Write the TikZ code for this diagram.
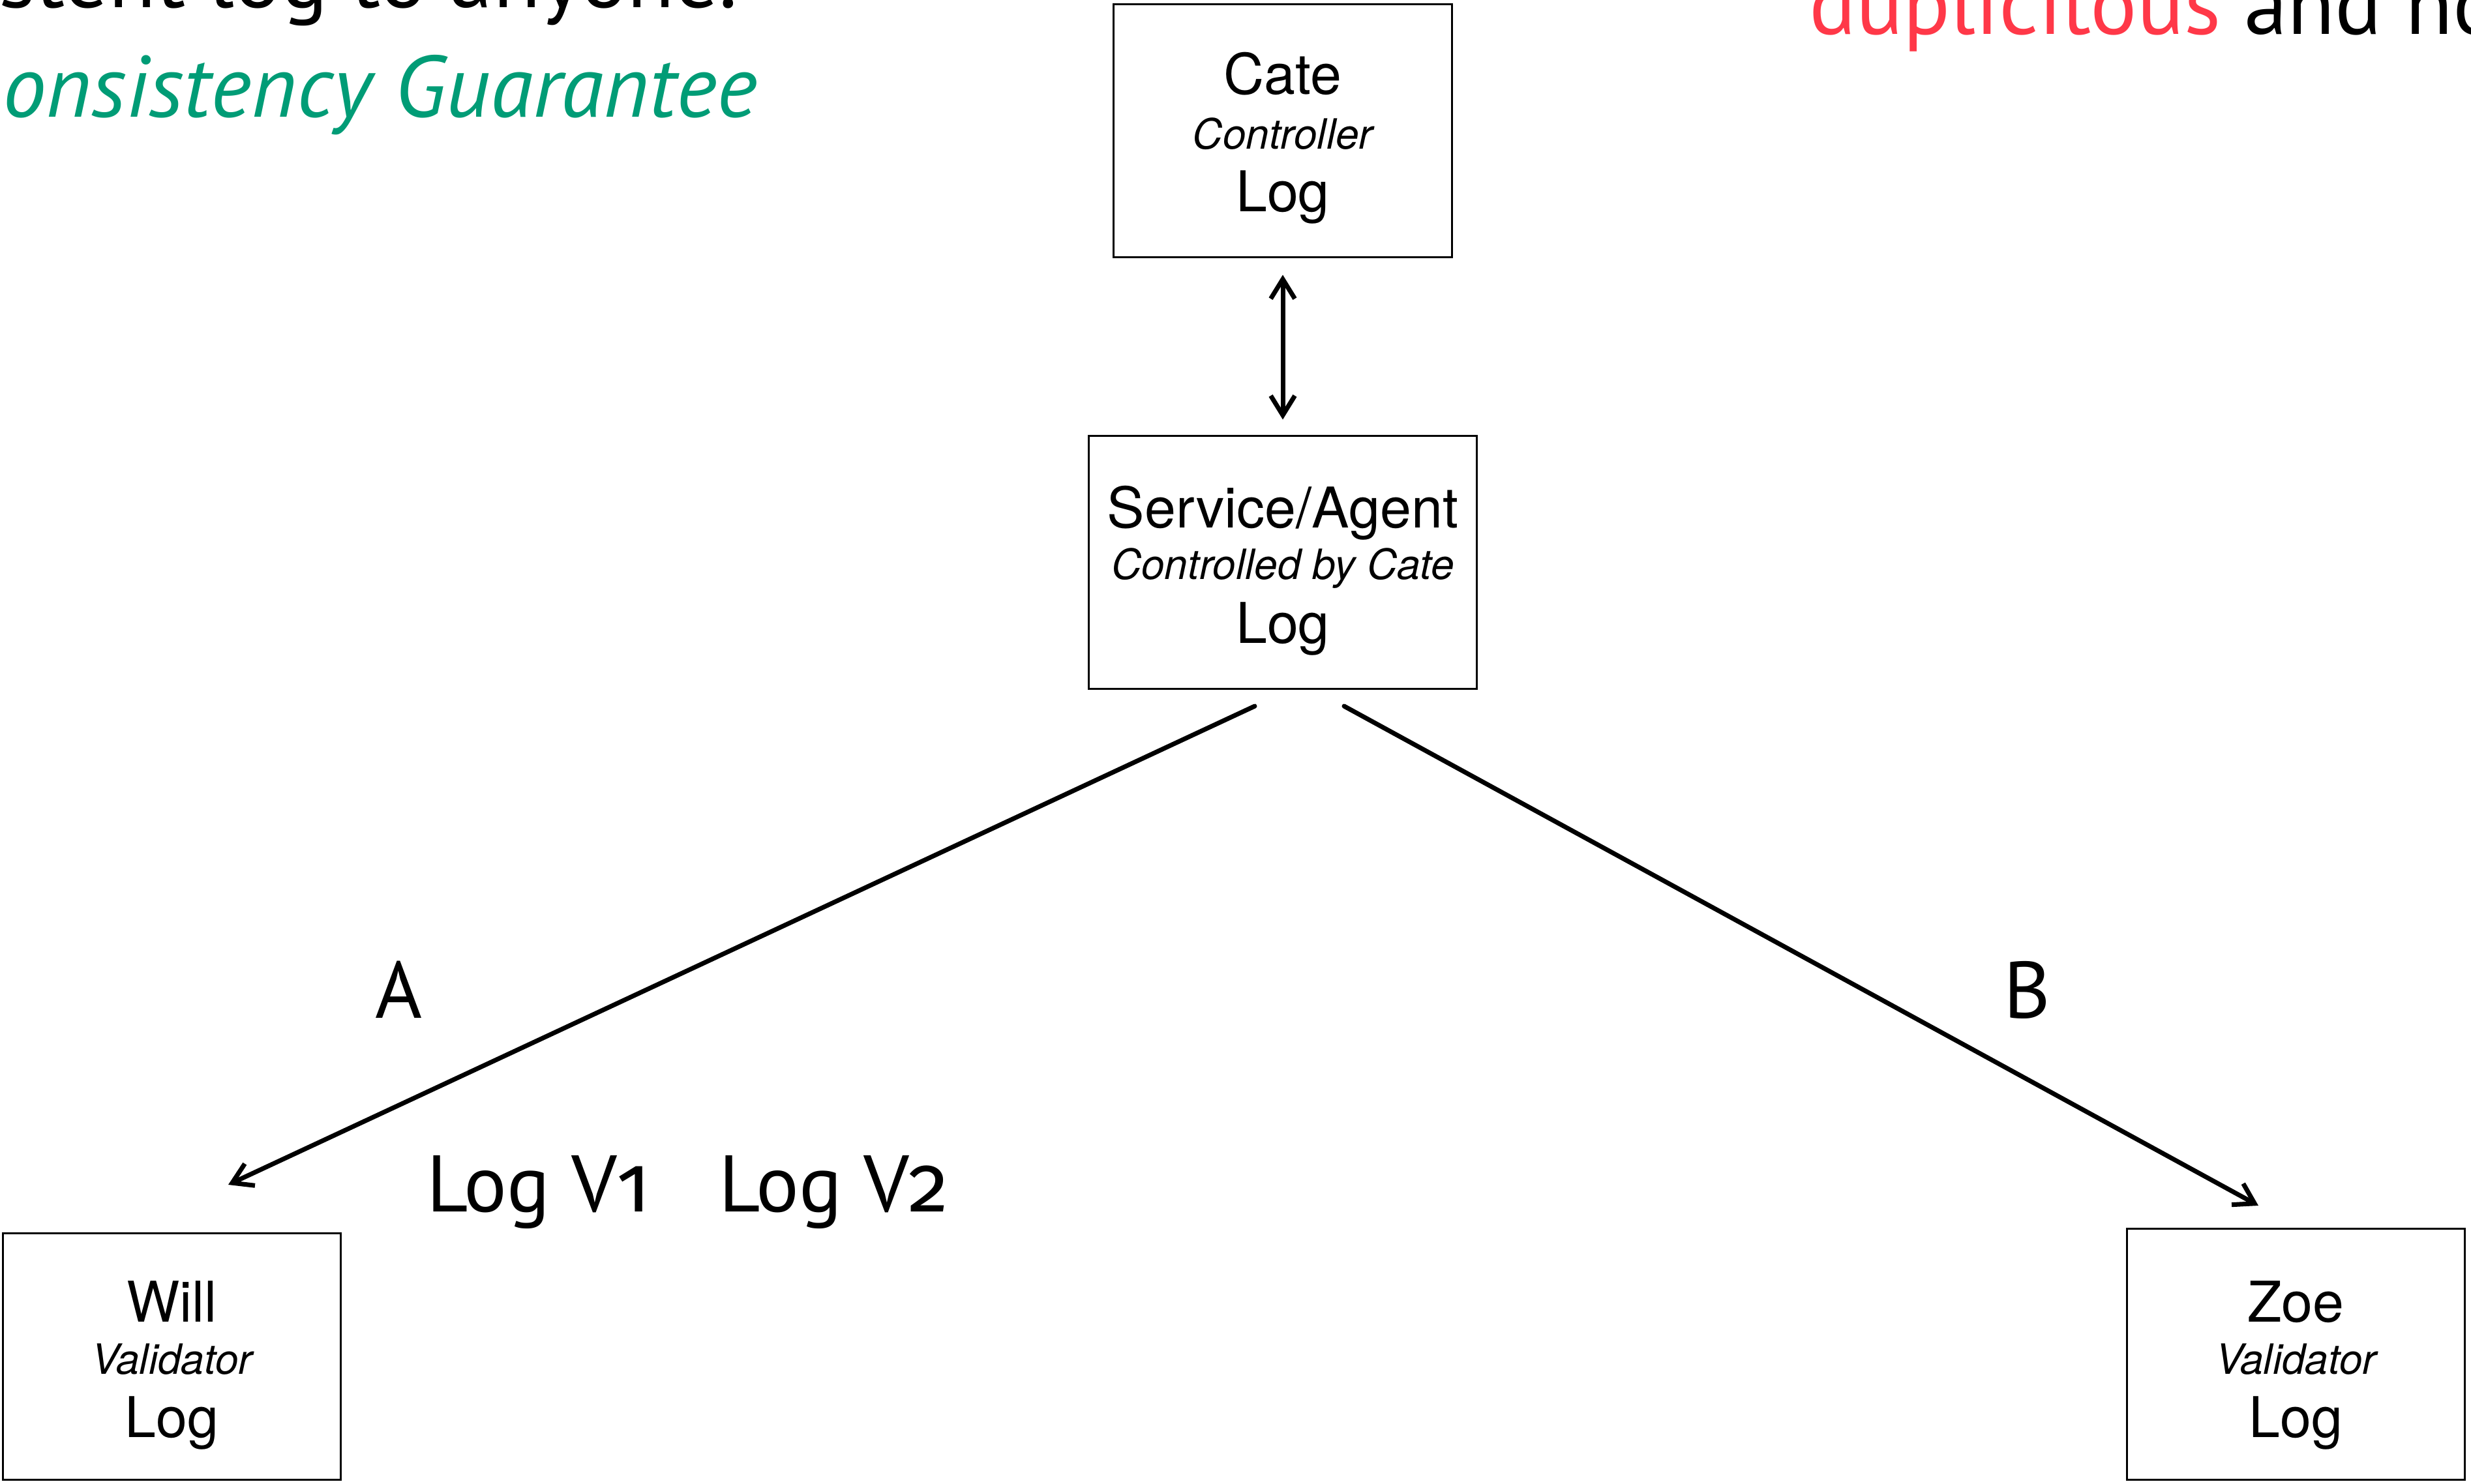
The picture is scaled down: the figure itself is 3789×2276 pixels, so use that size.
\documentclass[tikz,border=0pt]{standalone}
\usepackage{fontspec}
\setmainfont{PT Sans}
\newfontfamily\boxfont{TeX Gyre Heros}
\newfontfamily\oldnum[Numbers=OldStyle]{Fira Sans}
\usetikzlibrary{arrows.meta,calc}
\definecolor{guarantee}{RGB}{0,156,118}
\definecolor{dupred}{RGB}{255,56,72}
\tikzset{barb/.tip={Straight Barb[length=8.5pt,width=10.5pt]}}

\begin{document}
\begin{tikzpicture}[x=0.01cm,y=-0.01cm,
  actor/.style={draw=black, line width=0.8pt, inner sep=0pt},
  title/.style={anchor=base, inner sep=0pt, font=\boxfont\fontsize{24.5}{28}\selectfont},
  role/.style={anchor=base, inner sep=0pt, font=\boxfont\itshape\fontsize{18.2}{22}\selectfont},
  slide/.style={inner sep=0pt, font=\fontsize{35}{40}\selectfont},
  headline/.style={inner sep=0pt, font=\fontsize{38}{44}\selectfont},
  flow/.style={line width=2pt, line cap=round, line join=round, -{barb}},
  sync/.style={line width=2pt, line cap=round, line join=round, {barb}-{barb}},
]
% page frame
\path[use as bounding box] (0,0) rectangle (3789,2276);
\clip (0,0) rectangle (3789,2276);
\fill[white] (0,0) rectangle (3789,2276);

% headline fragments cut by the page edge
\node[headline, anchor=base east] (head-left) at (1132,12) {stent log to anyone.};
\node[headline, anchor=base east, text=guarantee] (head-green) at (1162,180) {\itshape onsistency Guarantee};
\node[headline, anchor=base west] (head-right) at (2774,53) {\textcolor{dupred}{duplicitous} and no};

% Cate, the controller
\node[actor, minimum width=5.18cm, minimum height=3.87cm] (cate) at (1967,200.5) {};
\node[title] (cate-name) at (1967,145) {Cate};
\node[role]  (cate-role) at (1967,229) {Controller};
\node[title] (cate-log)  at (1967,325) {Log};

% Service / agent
\node[actor, minimum width=5.94cm, minimum height=3.87cm] (svc) at (1967,862.5) {};
\node[title] (svc-name) at (1967,810) {Service/Agent};
\node[role]  (svc-role) at (1967,889) {Controlled by Cate};
\node[title] (svc-log)  at (1967,986) {Log};

% Will, validator
\node[actor, minimum width=5.17cm, minimum height=3.77cm] (will) at (263.5,2080.5) {};
\node[title] (will-name) at (263.5,2027) {Will};
\node[role]  (will-role) at (263.5,2107) {Validator};
\node[title] (will-log)  at (263.5,2204) {Log};

% Zoe, validator
\node[actor, minimum width=5.17cm, minimum height=3.84cm] (zoe) at (3520.5,2077) {};
\node[title] (zoe-name) at (3520.5,2027) {Zoe};
\node[role]  (zoe-role) at (3520.5,2107) {Validator};
\node[title] (zoe-log)  at (3520.5,2204) {Log};

% Cate <-> service
\draw[sync, shorten <=0.26cm, shorten >=0.24cm] (cate.south) -- (svc.north);

% service -> validators
\coordinate (a-from) at (1924,1083);
\coordinate (a-to)   at (350,1817);
\coordinate (b-from) at (2061,1083);
\coordinate (b-to)   at (3463,1849);
\draw[flow] (a-from) -- (a-to);
\draw[flow] (b-from) -- (b-to);

\node[slide, anchor=base] (lab-a) at (611,1561) {A};
\node[slide, anchor=base] (lab-b) at (3108,1561) {B};

\node[slide, anchor=base west] (log-v1) at (654,1858) {Log V{\oldnum 1}};
\node[slide, anchor=base west] (log-v2) at (1102,1858) {Log V{\oldnum 2}};
\end{tikzpicture}
\end{document}
